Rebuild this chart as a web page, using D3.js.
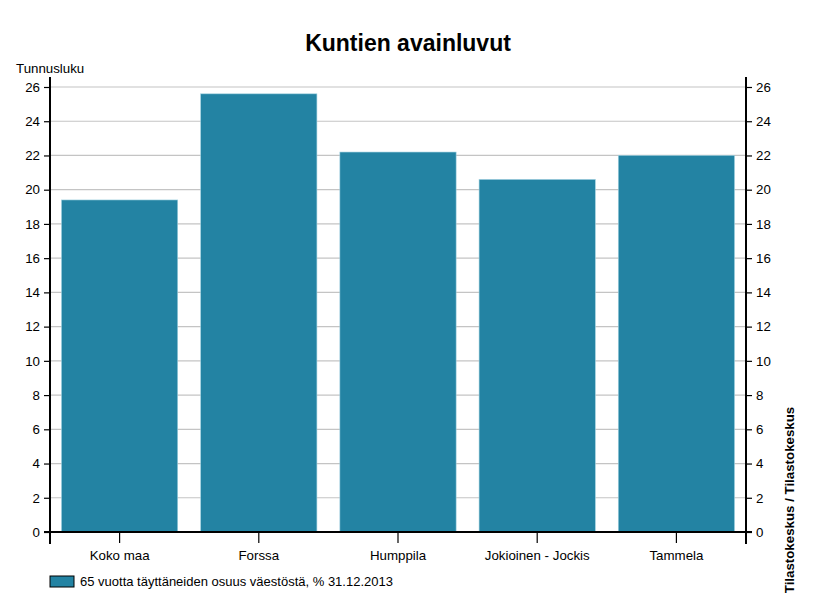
<!DOCTYPE html>
<html>
<head>
<meta charset="utf-8">
<script src="https://cdn.jsdelivr.net/npm/d3@7"></script>
<style>
  body { margin: 0; background: #fff; }
  text { font-family: "Liberation Sans", Arial, sans-serif; fill: #000; }
</style>
</head>
<body>
<div id="chart"></div>
<script>
// data
const categories = ["Koko maa", "Forssa", "Humppila", "Jokioinen - Jockis", "Tammela"];
const values = [19.4, 25.6, 22.2, 20.6, 22.0];
const yTicks = [0, 2, 4, 6, 8, 10, 12, 14, 16, 18, 20, 22, 24, 26];
const seriesName = "65 vuotta täyttäneiden osuus väestöstä, % 31.12.2013";

var width = 816
var height = 612
var plotLeft = 50, plotRight = 746, plotTop = 77, plotBottom = 532

var svg = d3.select("#chart")
  .append("svg")
    .attr("width", width)
    .attr("height", height)

var x = d3.scaleBand()
  .domain(categories)
  .range([plotLeft, plotRight])
  .paddingInner(0.165)
  .paddingOuter(0.0825)

var y = d3.scaleLinear()
  .domain([0, 26])
  .range([plotBottom, 87])

// gridlines
svg.append("g")
  .selectAll("line")
  .data(yTicks.filter(d => d > 0))
  .enter()
  .append("line")
  .attr("x1", plotLeft).attr("x2", plotRight)
  .attr("y1", d => y(d)).attr("y2", d => y(d))
  .attr("stroke", "#c4c4c4")
  .attr("stroke-width", 1.2)

// bars
svg.append("g")
  .selectAll("rect")
  .data(values)
  .enter()
  .append("rect")
  .attr("x", (d, i) => x(categories[i]))
  .attr("width", x.bandwidth())
  .attr("y", d => y(d))
  .attr("height", d => y(0) - y(d))
  .attr("fill", "#2383a3")
  .attr("stroke", "#9fd0df")
  .attr("stroke-width", 0.6)

// left axis
var leftAxis = svg.append("g")
  .attr("transform", "translate(" + plotLeft + ",0)")
  .call(d3.axisLeft(y).tickValues(yTicks).tickSize(6).tickPadding(4))
leftAxis.select(".domain").remove()
leftAxis.append("line")
  .attr("y1", plotTop).attr("y2", 544)
  .attr("stroke", "#000").attr("stroke-width", 2)

// right axis
var rightAxis = svg.append("g")
  .attr("transform", "translate(" + plotRight + ",0)")
  .call(d3.axisRight(y).tickValues(yTicks).tickSize(6).tickPadding(4))
rightAxis.select(".domain").remove()
rightAxis.append("line")
  .attr("y1", plotTop).attr("y2", 544)
  .attr("stroke", "#000").attr("stroke-width", 2)

// x axis
var xAxis = svg.append("g")
  .attr("transform", "translate(0," + plotBottom + ")")
  .call(d3.axisBottom(x).tickSize(11).tickPadding(8))
xAxis.select(".domain").remove()
xAxis.append("line")
  .attr("x1", plotLeft - 6).attr("x2", plotRight + 6)
  .attr("stroke", "#000").attr("stroke-width", 2)

svg.selectAll(".tick text")
  .style("font-family", "Liberation Sans, Arial, sans-serif")
  .style("font-size", "13.3px")
  .attr("fill", "#000")
svg.selectAll(".tick line").attr("stroke", "#000").attr("stroke-width", 1.2)

// title
svg.append("text")
  .attr("x", width / 2)
  .attr("y", 51)
  .attr("text-anchor", "middle")
  .style("font-size", "23px")
  .style("font-weight", "bold")
  .text("Kuntien avainluvut")

svg.append("text")
  .attr("x", 16)
  .attr("y", 73)
  .style("font-size", "13.3px")
  .text("Tunnusluku")

svg.append("text")
  .attr("transform", "translate(794,500) rotate(-90)")
  .attr("text-anchor", "middle")
  .style("font-size", "13.3px")
  .style("font-weight", "bold")
  .text("Tilastokeskus / Tilastokeskus")

// legend
svg.append("rect")
  .attr("x", 50).attr("y", 576)
  .attr("width", 24).attr("height", 11)
  .attr("fill", "#2383a3")
  .attr("stroke", "#000").attr("stroke-width", 1)

svg.append("text")
  .attr("x", 80)
  .attr("y", 586)
  .style("font-size", "13px")
  .text(seriesName)
</script>
</body>
</html>
